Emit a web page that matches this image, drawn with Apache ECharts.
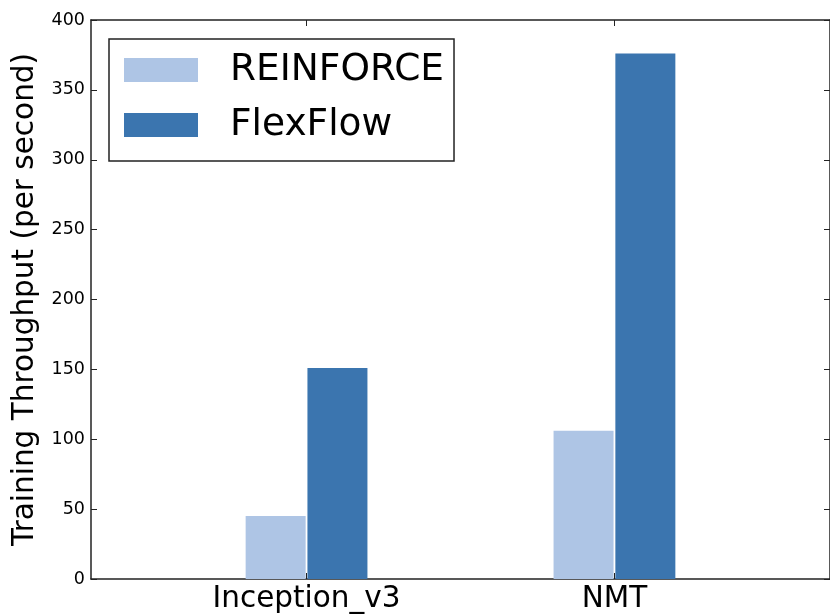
<!DOCTYPE html>
<html>
<head>
<meta charset="utf-8">
<script src="https://cdn.jsdelivr.net/npm/echarts@6/dist/echarts.min.js"></script>
<style>
  html, body { margin: 0; padding: 0; background: #fff; }
  #chart { width: 830px; height: 614px; }
</style>
</head>
<body>
<div id="chart"></div>
<script>
// Training throughput per model, two placement strategies
const categories = ['Inception_v3', 'NMT'];
const reinforce = [45, 106];
const flexflow = [151, 376];
const yTicks = [0, 50, 100, 150, 200, 250, 300, 350, 400];

const FONT = 'DejaVu Sans';
const INK = '#222';
const catPositions = categories.map((_, i) => i);

const chart = echarts.init(document.getElementById('chart'), null, { renderer: 'canvas' });

const xCommon = {
  type: 'value',
  min: -0.7,
  max: 1.7,
  splitLine: { show: false },
  axisLine: { show: true, onZero: false, lineStyle: { color: INK, width: 1.5 } },
  axisTick: { show: true, inside: true, length: 6, customValues: catPositions, lineStyle: { color: INK, width: 1 } }
};

const yCommon = {
  type: 'value',
  min: yTicks[0],
  max: yTicks[yTicks.length - 1],
  interval: 50,
  splitLine: { show: false },
  axisLine: { show: true, onZero: false, lineStyle: { color: INK, width: 1.5 } },
  axisTick: { show: true, inside: true, length: 6, lineStyle: { color: INK } }
};

chart.setOption({
  animation: false,
  backgroundColor: '#fff',
  textStyle: { fontFamily: FONT },
  grid: { left: 91, top: 20, width: 740, height: 559 },
  legend: {
    left: 109,
    top: 39,
    orient: 'vertical',
    backgroundColor: '#fff',
    borderColor: INK,
    borderWidth: 1.5,
    borderRadius: 0,
    padding: [8, 10, 13, 15],
    itemWidth: 74,
    itemHeight: 24,
    itemGap: 9,
    icon: 'rect',
    textStyle: { fontFamily: FONT, fontSize: 37.5, color: '#000', lineHeight: 40, padding: [6, 0, 0, 27] },
    data: ['REINFORCE', 'FlexFlow']
  },
  xAxis: [
    Object.assign({}, xCommon, {
      position: 'bottom',
      axisLabel: {
        show: true,
        customValues: catPositions,
        formatter: v => categories[Math.round(v)],
        fontFamily: FONT,
        fontSize: 29.5,
        color: '#000',
        margin: 5
      }
    }),
    Object.assign({}, xCommon, {
      position: 'top',
      axisLabel: { show: false }
    })
  ],
  yAxis: [
    Object.assign({}, yCommon, {
      position: 'left',
      name: 'Training Throughput (per second)',
      nameLocation: 'middle',
      nameGap: 46,
      nameTextStyle: { fontFamily: FONT, fontSize: 29.5, color: '#000' },
      axisLabel: { fontFamily: FONT, fontSize: 17.5, color: '#000', margin: 6 }
    }),
    Object.assign({}, yCommon, {
      position: 'right',
      axisLabel: { show: false }
    })
  ],
  series: [
    {
      name: 'REINFORCE',
      type: 'bar',
      xAxisIndex: 0,
      yAxisIndex: 0,
      barWidth: 60,
      barGap: '3%',
      itemStyle: { color: '#aec5e5' },
      data: catPositions.map((x, i) => [x, reinforce[i]])
    },
    {
      name: 'FlexFlow',
      type: 'bar',
      xAxisIndex: 0,
      yAxisIndex: 0,
      barWidth: 60,
      barGap: '3%',
      itemStyle: { color: '#3b75af' },
      data: catPositions.map((x, i) => [x, flexflow[i]])
    }
  ]
});
</script>
</body>
</html>
